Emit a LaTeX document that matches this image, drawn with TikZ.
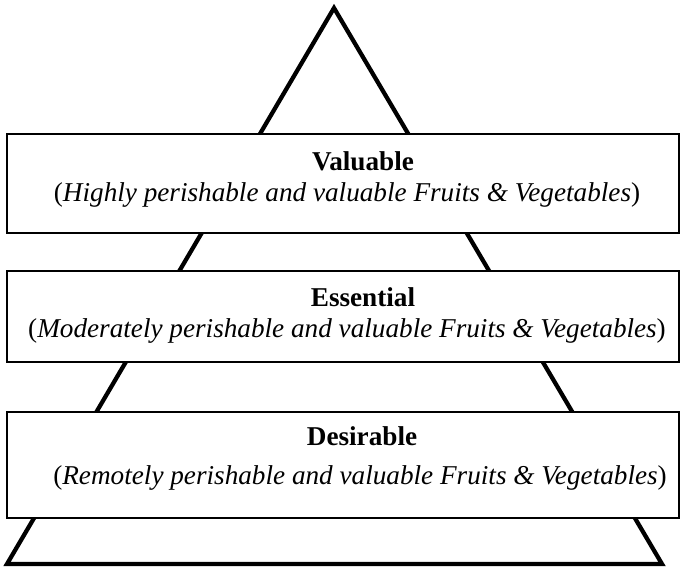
\documentclass[tikz,border=0pt]{standalone}
\usepackage{fontspec}
\setmainfont{Liberation Serif}
\begin{document}
\begin{tikzpicture}[x=0.75pt,y=-0.75pt,
  pyramid/.style={line width=3.2pt,line join=miter,draw=black},
  tierbox/.style={draw=black,fill=white,line width=0.9pt},
  tiertitle/.style={anchor=base,inner sep=0pt,font=\fontsize{20.4}{24}\selectfont\bfseries},
  tiernote/.style={anchor=base,inner sep=0pt,font=\fontsize{20.4}{24}\selectfont}]
\useasboundingbox (0,0) rectangle (680,568);
\fill[white] (0,0) rectangle (680,568);

% outline of the pyramid
\coordinate (apex) at (334,8);
\coordinate (baseR) at (662,564);
\coordinate (baseL) at (7,564);
\draw[pyramid] (apex) -- (baseR) -- (baseL) -- cycle;

% the three tiers
\draw[tierbox] (7,134) rectangle (679,233);
\draw[tierbox] (7,271) rectangle (679,362);
\draw[tierbox] (7,412) rectangle (679,518);

\node[tiertitle] (valuable) at (363,170) {Valuable};
\node[tiernote] (valuableNote) at (347,201) {(\textit{Highly perishable and valuable Fruits \& Vegetables})};

\node[tiertitle] (essential) at (363,306) {Essential};
\node[tiernote] (essentialNote) at (347,337) {(\textit{Moderately perishable and valuable Fruits \& Vegetables})};

\node[tiertitle] (desirable) at (362,445) {Desirable};
\node[tiernote] (desirableNote) at (360,484) {(\textit{Remotely perishable and valuable Fruits \& Vegetables})};
\end{tikzpicture}
\end{document}
